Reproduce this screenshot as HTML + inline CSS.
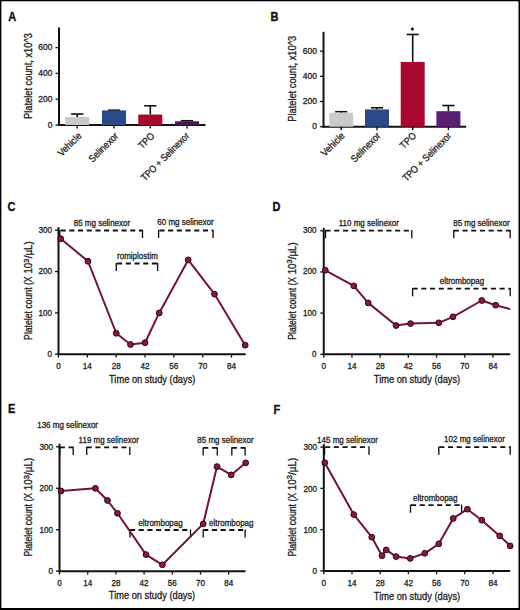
<!DOCTYPE html>
<html><head><meta charset="utf-8"><style>
html,body{margin:0;padding:0;background:#fff;}
body{width:520px;height:610px;overflow:hidden;}
svg{display:block;font-family:"Liberation Sans",sans-serif;}
</style></head><body>
<svg width="520" height="610" viewBox="0 0 520 610">
<rect x="0" y="0" width="520" height="610" fill="#000"/>
<rect x="1.4" y="1.3" width="517.1" height="606.7" fill="#fff"/>
<line x1="59" y1="27.5" x2="59" y2="126" stroke="#111" stroke-width="2.0" />
<line x1="58" y1="125" x2="205.5" y2="125" stroke="#111" stroke-width="2.0" />
<line x1="55.5" y1="125.0" x2="59" y2="125.0" stroke="#111" stroke-width="1.3" />
<text transform="translate(52.4,127.6) scale(1.0000,1)" font-size="8.45" text-anchor="end" font-weight="normal" fill="#222" stroke="#222" stroke-width="0.3" >0</text>
<line x1="55.5" y1="99.2" x2="59" y2="99.2" stroke="#111" stroke-width="1.3" />
<text transform="translate(52.4,101.8) scale(1.0000,1)" font-size="8.45" text-anchor="end" font-weight="normal" fill="#222" stroke="#222" stroke-width="0.3" >200</text>
<line x1="55.5" y1="73.4" x2="59" y2="73.4" stroke="#111" stroke-width="1.3" />
<text transform="translate(52.4,76.0) scale(1.0000,1)" font-size="8.45" text-anchor="end" font-weight="normal" fill="#222" stroke="#222" stroke-width="0.3" >400</text>
<line x1="55.5" y1="47.6" x2="59" y2="47.6" stroke="#111" stroke-width="1.3" />
<text transform="translate(52.4,50.2) scale(1.0000,1)" font-size="8.45" text-anchor="end" font-weight="normal" fill="#222" stroke="#222" stroke-width="0.3" >600</text>
<line x1="77.2" y1="114.03" x2="77.2" y2="117.0" stroke="#111" stroke-width="1.6" />
<line x1="71.1" y1="114.03" x2="83.3" y2="114.03" stroke="#111" stroke-width="1.6" />
<rect x="65.2" y="117.0" width="24" height="8.0" fill="#c9c9cb" stroke="none" stroke-width="0"/>
<line x1="77.2" y1="125" x2="77.2" y2="128.5" stroke="#111" stroke-width="1.4" />
<text transform="translate(82.2,136.5) rotate(-45) scale(0.9091,1)" font-size="9.90" text-anchor="end" font-weight="normal" fill="#222" stroke="#222" stroke-width="0.3" >Vehicle</text>
<line x1="114.0" y1="110.23" x2="114.0" y2="110.42" stroke="#111" stroke-width="1.6" />
<line x1="107.9" y1="110.23" x2="120.1" y2="110.23" stroke="#111" stroke-width="1.6" />
<rect x="102.0" y="110.42" width="24" height="14.58" fill="#294987" stroke="none" stroke-width="0"/>
<line x1="114.0" y1="125" x2="114.0" y2="128.5" stroke="#111" stroke-width="1.4" />
<text transform="translate(119.0,136.5) rotate(-45) scale(0.9091,1)" font-size="9.90" text-anchor="end" font-weight="normal" fill="#222" stroke="#222" stroke-width="0.3" >Selinexor</text>
<line x1="150.3" y1="105.78" x2="150.3" y2="114.55" stroke="#111" stroke-width="1.6" />
<line x1="144.2" y1="105.78" x2="156.4" y2="105.78" stroke="#111" stroke-width="1.6" />
<rect x="138.3" y="114.55" width="24" height="10.45" fill="#a9082c" stroke="none" stroke-width="0"/>
<line x1="150.3" y1="125" x2="150.3" y2="128.5" stroke="#111" stroke-width="1.4" />
<text transform="translate(155.3,136.5) rotate(-45) scale(0.9091,1)" font-size="9.90" text-anchor="end" font-weight="normal" fill="#222" stroke="#222" stroke-width="0.3" >TPO</text>
<line x1="187.0" y1="120.74" x2="187.0" y2="121.26" stroke="#111" stroke-width="1.6" />
<line x1="180.9" y1="120.74" x2="193.1" y2="120.74" stroke="#111" stroke-width="1.6" />
<rect x="175.0" y="121.26" width="24" height="3.74" fill="#431a53" stroke="none" stroke-width="0"/>
<line x1="187.0" y1="125" x2="187.0" y2="128.5" stroke="#111" stroke-width="1.4" />
<text transform="translate(190.0,136.5) rotate(-45) scale(0.9091,1)" font-size="9.90" text-anchor="end" font-weight="normal" fill="#222" stroke="#222" stroke-width="0.3" textLength="70.18" lengthAdjust="spacingAndGlyphs">TPO + Selinexor</text>
<text transform="translate(31.5,76) rotate(-90) scale(0.9091,1)" font-size="10.23" text-anchor="middle" font-weight="normal" fill="#222" stroke="#222" stroke-width="0.3" >Platelet count, x10^3</text>
<line x1="323.5" y1="31.8" x2="323.5" y2="127.7" stroke="#111" stroke-width="2.0" />
<line x1="322.5" y1="126.7" x2="466.2" y2="126.7" stroke="#111" stroke-width="2.0" />
<line x1="320.0" y1="126.7" x2="323.5" y2="126.7" stroke="#111" stroke-width="1.3" />
<text transform="translate(316.9,129.3) scale(1.0000,1)" font-size="8.45" text-anchor="end" font-weight="normal" fill="#222" stroke="#222" stroke-width="0.3" >0</text>
<line x1="320.0" y1="101.5" x2="323.5" y2="101.5" stroke="#111" stroke-width="1.3" />
<text transform="translate(316.9,104.1) scale(1.0000,1)" font-size="8.45" text-anchor="end" font-weight="normal" fill="#222" stroke="#222" stroke-width="0.3" >200</text>
<line x1="320.0" y1="76.3" x2="323.5" y2="76.3" stroke="#111" stroke-width="1.3" />
<text transform="translate(316.9,78.9) scale(1.0000,1)" font-size="8.45" text-anchor="end" font-weight="normal" fill="#222" stroke="#222" stroke-width="0.3" >400</text>
<line x1="320.0" y1="51.1" x2="323.5" y2="51.1" stroke="#111" stroke-width="1.3" />
<text transform="translate(316.9,53.7) scale(1.0000,1)" font-size="8.45" text-anchor="end" font-weight="normal" fill="#222" stroke="#222" stroke-width="0.3" >600</text>
<line x1="341.2" y1="111.71" x2="341.2" y2="112.71" stroke="#111" stroke-width="1.6" />
<line x1="335.1" y1="111.71" x2="347.3" y2="111.71" stroke="#111" stroke-width="1.6" />
<rect x="329.2" y="112.71" width="24" height="13.99" fill="#cbcbcd" stroke="none" stroke-width="0"/>
<line x1="341.2" y1="126.7" x2="341.2" y2="130.2" stroke="#111" stroke-width="1.4" />
<text transform="translate(345.4,136.4) rotate(-45) scale(0.9091,1)" font-size="9.90" text-anchor="end" font-weight="normal" fill="#222" stroke="#222" stroke-width="0.3" >Vehicle</text>
<line x1="377.0" y1="107.8" x2="377.0" y2="109.44" stroke="#111" stroke-width="1.6" />
<line x1="370.9" y1="107.8" x2="383.1" y2="107.8" stroke="#111" stroke-width="1.6" />
<rect x="365.0" y="109.44" width="24" height="17.26" fill="#294987" stroke="none" stroke-width="0"/>
<line x1="377.0" y1="126.7" x2="377.0" y2="130.2" stroke="#111" stroke-width="1.4" />
<text transform="translate(381.2,136.4) rotate(-45) scale(0.9091,1)" font-size="9.90" text-anchor="end" font-weight="normal" fill="#222" stroke="#222" stroke-width="0.3" >Selinexor</text>
<line x1="412.7" y1="34.47" x2="412.7" y2="61.94" stroke="#111" stroke-width="1.6" />
<line x1="406.6" y1="34.47" x2="418.8" y2="34.47" stroke="#111" stroke-width="1.6" />
<rect x="400.7" y="61.94" width="24" height="64.76" fill="#a9082c" stroke="none" stroke-width="0"/>
<line x1="412.7" y1="126.7" x2="412.7" y2="130.2" stroke="#111" stroke-width="1.4" />
<text transform="translate(416.9,136.4) rotate(-45) scale(0.9091,1)" font-size="9.90" text-anchor="end" font-weight="normal" fill="#222" stroke="#222" stroke-width="0.3" >TPO</text>
<line x1="448.4" y1="105.53" x2="448.4" y2="111.2" stroke="#111" stroke-width="1.6" />
<line x1="442.3" y1="105.53" x2="454.5" y2="105.53" stroke="#111" stroke-width="1.6" />
<rect x="436.4" y="111.2" width="24" height="15.5" fill="#5a1f6e" stroke="none" stroke-width="0"/>
<line x1="448.4" y1="126.7" x2="448.4" y2="130.2" stroke="#111" stroke-width="1.4" />
<text transform="translate(452.1,136.4) rotate(-45) scale(0.9091,1)" font-size="9.90" text-anchor="end" font-weight="normal" fill="#222" stroke="#222" stroke-width="0.3" textLength="71.06" lengthAdjust="spacingAndGlyphs">TPO + Selinexor</text>
<text transform="translate(296.0,78.8) rotate(-90) scale(0.9091,1)" font-size="10.23" text-anchor="middle" font-weight="normal" fill="#222" stroke="#222" stroke-width="0.3" >Platelet count, x10^3</text>
<circle cx="412.4" cy="28.9" r="1.5" fill="#111"/>
<line x1="58.5" y1="227.2" x2="58.5" y2="355.2" stroke="#111" stroke-width="2.0" />
<line x1="57.5" y1="354.2" x2="245.7" y2="354.2" stroke="#111" stroke-width="2.0" />
<line x1="55.0" y1="354.2" x2="58.5" y2="354.2" stroke="#111" stroke-width="1.3" />
<text transform="translate(51.9,357.1) scale(0.9524,1)" font-size="8.51" text-anchor="end" font-weight="normal" fill="#222" stroke="#222" stroke-width="0.3" >0</text>
<line x1="55.0" y1="312.87" x2="58.5" y2="312.87" stroke="#111" stroke-width="1.3" />
<text transform="translate(51.9,315.77) scale(0.9524,1)" font-size="8.51" text-anchor="end" font-weight="normal" fill="#222" stroke="#222" stroke-width="0.3" >100</text>
<line x1="55.0" y1="271.53" x2="58.5" y2="271.53" stroke="#111" stroke-width="1.3" />
<text transform="translate(51.9,274.43) scale(0.9524,1)" font-size="8.51" text-anchor="end" font-weight="normal" fill="#222" stroke="#222" stroke-width="0.3" >200</text>
<line x1="55.0" y1="230.2" x2="58.5" y2="230.2" stroke="#111" stroke-width="1.3" />
<text transform="translate(51.9,233.1) scale(0.9524,1)" font-size="8.51" text-anchor="end" font-weight="normal" fill="#222" stroke="#222" stroke-width="0.3" >300</text>
<line x1="58.5" y1="354.2" x2="58.5" y2="357.6" stroke="#111" stroke-width="1.3" />
<text transform="translate(58.5,368.8) scale(0.9524,1)" font-size="8.51" text-anchor="middle" font-weight="normal" fill="#222" stroke="#222" stroke-width="0.3" >0</text>
<line x1="87.33" y1="354.2" x2="87.33" y2="357.6" stroke="#111" stroke-width="1.3" />
<text transform="translate(87.33,368.8) scale(0.9524,1)" font-size="8.51" text-anchor="middle" font-weight="normal" fill="#222" stroke="#222" stroke-width="0.3" >14</text>
<line x1="116.16" y1="354.2" x2="116.16" y2="357.6" stroke="#111" stroke-width="1.3" />
<text transform="translate(116.16,368.8) scale(0.9524,1)" font-size="8.51" text-anchor="middle" font-weight="normal" fill="#222" stroke="#222" stroke-width="0.3" >28</text>
<line x1="144.99" y1="354.2" x2="144.99" y2="357.6" stroke="#111" stroke-width="1.3" />
<text transform="translate(144.99,368.8) scale(0.9524,1)" font-size="8.51" text-anchor="middle" font-weight="normal" fill="#222" stroke="#222" stroke-width="0.3" >42</text>
<line x1="173.82" y1="354.2" x2="173.82" y2="357.6" stroke="#111" stroke-width="1.3" />
<text transform="translate(173.82,368.8) scale(0.9524,1)" font-size="8.51" text-anchor="middle" font-weight="normal" fill="#222" stroke="#222" stroke-width="0.3" >56</text>
<line x1="202.65" y1="354.2" x2="202.65" y2="357.6" stroke="#111" stroke-width="1.3" />
<text transform="translate(202.65,368.8) scale(0.9524,1)" font-size="8.51" text-anchor="middle" font-weight="normal" fill="#222" stroke="#222" stroke-width="0.3" >70</text>
<line x1="231.48" y1="354.2" x2="231.48" y2="357.6" stroke="#111" stroke-width="1.3" />
<text transform="translate(231.48,368.8) scale(0.9524,1)" font-size="8.51" text-anchor="middle" font-weight="normal" fill="#222" stroke="#222" stroke-width="0.3" >84</text>
<text transform="translate(152.2,383.0) scale(0.9091,1)" font-size="10.23" text-anchor="middle" font-weight="normal" fill="#222" stroke="#222" stroke-width="0.3" >Time on study (days)</text>
<text transform="translate(32.2,339.9) rotate(-90) scale(0.9091,1)" font-size="10.23" text-anchor="start" font-weight="normal" fill="#222" stroke="#222" stroke-width="0.3" textLength="69.89" lengthAdjust="spacingAndGlyphs">Platelet count (X</text>
<text transform="translate(32.2,241.2) rotate(-90) scale(0.9091,1)" font-size="10.23" text-anchor="end" font-weight="normal" fill="#222" stroke="#222" stroke-width="0.3" textLength="35.65" lengthAdjust="spacingAndGlyphs">10<tspan font-size="8" dy="-3.4">3</tspan><tspan dy="3.4">/µL)</tspan></text>
<line x1="59.8" y1="230.5" x2="142.5" y2="230.5" stroke="#111" stroke-width="1.8" stroke-dasharray="5.1 3.6" stroke-dashoffset="-0.8"/>
<line x1="59.8" y1="229.9" x2="59.8" y2="238.1" stroke="#111" stroke-width="1.35" />
<line x1="142.5" y1="229.9" x2="142.5" y2="238.1" stroke="#111" stroke-width="1.35" />
<line x1="158.6" y1="230.5" x2="213.0" y2="230.5" stroke="#111" stroke-width="1.8" stroke-dasharray="5.1 3.6" stroke-dashoffset="-0.8"/>
<line x1="158.6" y1="229.9" x2="158.6" y2="238.1" stroke="#111" stroke-width="1.35" />
<line x1="213.0" y1="229.9" x2="213.0" y2="238.1" stroke="#111" stroke-width="1.35" />
<line x1="116.3" y1="263.5" x2="157.6" y2="263.5" stroke="#111" stroke-width="1.8" stroke-dasharray="5.1 3.6" stroke-dashoffset="-0.8"/>
<line x1="116.3" y1="262.9" x2="116.3" y2="271.1" stroke="#111" stroke-width="1.35" />
<line x1="157.6" y1="262.9" x2="157.6" y2="271.1" stroke="#111" stroke-width="1.35" />
<text transform="translate(73.75,225.8) scale(0.9091,1)" font-size="8.80" text-anchor="start" font-weight="normal" fill="#222" stroke="#222" stroke-width="0.3" >85 mg selinexor</text>
<text transform="translate(157.3,225.2) scale(0.9091,1)" font-size="8.80" text-anchor="start" font-weight="normal" fill="#222" stroke="#222" stroke-width="0.3" >60 mg selinexor</text>
<text transform="translate(137.5,259.0) scale(0.9091,1)" font-size="8.80" text-anchor="middle" font-weight="normal" fill="#222" stroke="#222" stroke-width="0.3" >romiplostim</text>
<polyline points="60.75,238.75 88,261.25 116.25,333.25 130.5,344.5 145,342.7 159.2,312.9 188.2,259.9 214.5,294.1 245.2,345.2" fill="none" stroke="#741430" stroke-width="2.0" stroke-linejoin="round"/>
<circle cx="60.75" cy="238.75" r="2.9" fill="#8a1a3b" stroke="#2a0610" stroke-width="1.0"/>
<circle cx="88" cy="261.25" r="2.9" fill="#8a1a3b" stroke="#2a0610" stroke-width="1.0"/>
<circle cx="116.25" cy="333.25" r="2.9" fill="#8a1a3b" stroke="#2a0610" stroke-width="1.0"/>
<circle cx="130.5" cy="344.5" r="2.9" fill="#8a1a3b" stroke="#2a0610" stroke-width="1.0"/>
<circle cx="145" cy="342.7" r="2.9" fill="#8a1a3b" stroke="#2a0610" stroke-width="1.0"/>
<circle cx="159.2" cy="312.9" r="2.9" fill="#8a1a3b" stroke="#2a0610" stroke-width="1.0"/>
<circle cx="188.2" cy="259.9" r="2.9" fill="#8a1a3b" stroke="#2a0610" stroke-width="1.0"/>
<circle cx="214.5" cy="294.1" r="2.9" fill="#8a1a3b" stroke="#2a0610" stroke-width="1.0"/>
<circle cx="245.2" cy="345.2" r="2.9" fill="#8a1a3b" stroke="#2a0610" stroke-width="1.0"/>
<line x1="323.75" y1="227.8" x2="323.75" y2="355.3" stroke="#111" stroke-width="2.0" />
<line x1="322.75" y1="354.3" x2="510.2" y2="354.3" stroke="#111" stroke-width="2.0" />
<line x1="320.25" y1="354.3" x2="323.75" y2="354.3" stroke="#111" stroke-width="1.3" />
<text transform="translate(316.45,356.7) scale(0.9524,1)" font-size="8.51" text-anchor="end" font-weight="normal" fill="#222" stroke="#222" stroke-width="0.3" >0</text>
<line x1="320.25" y1="313.13" x2="323.75" y2="313.13" stroke="#111" stroke-width="1.3" />
<text transform="translate(316.45,315.53) scale(0.9524,1)" font-size="8.51" text-anchor="end" font-weight="normal" fill="#222" stroke="#222" stroke-width="0.3" >100</text>
<line x1="320.25" y1="271.97" x2="323.75" y2="271.97" stroke="#111" stroke-width="1.3" />
<text transform="translate(316.45,274.37) scale(0.9524,1)" font-size="8.51" text-anchor="end" font-weight="normal" fill="#222" stroke="#222" stroke-width="0.3" >200</text>
<line x1="320.25" y1="230.8" x2="323.75" y2="230.8" stroke="#111" stroke-width="1.3" />
<text transform="translate(316.45,233.2) scale(0.9524,1)" font-size="8.51" text-anchor="end" font-weight="normal" fill="#222" stroke="#222" stroke-width="0.3" >300</text>
<line x1="323.75" y1="354.3" x2="323.75" y2="357.7" stroke="#111" stroke-width="1.3" />
<text transform="translate(323.75,368.9) scale(0.9524,1)" font-size="8.51" text-anchor="middle" font-weight="normal" fill="#222" stroke="#222" stroke-width="0.3" >0</text>
<line x1="351.95" y1="354.3" x2="351.95" y2="357.7" stroke="#111" stroke-width="1.3" />
<text transform="translate(351.95,368.9) scale(0.9524,1)" font-size="8.51" text-anchor="middle" font-weight="normal" fill="#222" stroke="#222" stroke-width="0.3" >14</text>
<line x1="380.14" y1="354.3" x2="380.14" y2="357.7" stroke="#111" stroke-width="1.3" />
<text transform="translate(380.14,368.9) scale(0.9524,1)" font-size="8.51" text-anchor="middle" font-weight="normal" fill="#222" stroke="#222" stroke-width="0.3" >28</text>
<line x1="408.34" y1="354.3" x2="408.34" y2="357.7" stroke="#111" stroke-width="1.3" />
<text transform="translate(408.34,368.9) scale(0.9524,1)" font-size="8.51" text-anchor="middle" font-weight="normal" fill="#222" stroke="#222" stroke-width="0.3" >42</text>
<line x1="436.53" y1="354.3" x2="436.53" y2="357.7" stroke="#111" stroke-width="1.3" />
<text transform="translate(436.53,368.9) scale(0.9524,1)" font-size="8.51" text-anchor="middle" font-weight="normal" fill="#222" stroke="#222" stroke-width="0.3" >56</text>
<line x1="464.73" y1="354.3" x2="464.73" y2="357.7" stroke="#111" stroke-width="1.3" />
<text transform="translate(464.73,368.9) scale(0.9524,1)" font-size="8.51" text-anchor="middle" font-weight="normal" fill="#222" stroke="#222" stroke-width="0.3" >70</text>
<line x1="492.93" y1="354.3" x2="492.93" y2="357.7" stroke="#111" stroke-width="1.3" />
<text transform="translate(492.93,368.9) scale(0.9524,1)" font-size="8.51" text-anchor="middle" font-weight="normal" fill="#222" stroke="#222" stroke-width="0.3" >84</text>
<text transform="translate(417.0,383.3) scale(0.9091,1)" font-size="10.23" text-anchor="middle" font-weight="normal" fill="#222" stroke="#222" stroke-width="0.3" >Time on study (days)</text>
<text transform="translate(295.5,339.7) rotate(-90) scale(0.9091,1)" font-size="10.23" text-anchor="start" font-weight="normal" fill="#222" stroke="#222" stroke-width="0.3" textLength="68.97" lengthAdjust="spacingAndGlyphs">Platelet count (X</text>
<text transform="translate(295.5,242.3) rotate(-90) scale(0.9091,1)" font-size="10.23" text-anchor="end" font-weight="normal" fill="#222" stroke="#222" stroke-width="0.3" textLength="35.19" lengthAdjust="spacingAndGlyphs">10<tspan font-size="8" dy="-3.4">3</tspan><tspan dy="3.4">/µL)</tspan></text>
<line x1="325.5" y1="230.6" x2="411.8" y2="230.6" stroke="#111" stroke-width="1.8" stroke-dasharray="5.1 3.6" stroke-dashoffset="0"/>
<line x1="325.5" y1="230.0" x2="325.5" y2="238.2" stroke="#111" stroke-width="1.35" />
<line x1="411.8" y1="230.0" x2="411.8" y2="238.2" stroke="#111" stroke-width="1.35" />
<line x1="453.8" y1="230.6" x2="510.2" y2="230.6" stroke="#111" stroke-width="1.8" stroke-dasharray="5.1 3.6" stroke-dashoffset="0"/>
<line x1="453.8" y1="230.0" x2="453.8" y2="238.2" stroke="#111" stroke-width="1.35" />
<line x1="510.2" y1="230.0" x2="510.2" y2="238.2" stroke="#111" stroke-width="1.35" />
<line x1="412.6" y1="288.7" x2="510.2" y2="288.7" stroke="#111" stroke-width="1.8" stroke-dasharray="5.1 3.6" stroke-dashoffset="0"/>
<line x1="412.6" y1="288.1" x2="412.6" y2="296.3" stroke="#111" stroke-width="1.35" />
<line x1="510.2" y1="288.1" x2="510.2" y2="296.3" stroke="#111" stroke-width="1.35" />
<text transform="translate(338.75,225.8) scale(0.9091,1)" font-size="8.80" text-anchor="start" font-weight="normal" fill="#222" stroke="#222" stroke-width="0.3" >110 mg selinexor</text>
<text transform="translate(453.2,225.5) scale(0.9091,1)" font-size="8.80" text-anchor="start" font-weight="normal" fill="#222" stroke="#222" stroke-width="0.3" >85 mg selinexor</text>
<text transform="translate(461.9,283.6) scale(0.9091,1)" font-size="8.80" text-anchor="middle" font-weight="normal" fill="#222" stroke="#222" stroke-width="0.3" >eltrombopag</text>
<polyline points="325.3,270.3 353.8,285.9 368.2,302.9 396.1,325.5 410.5,323.6 438.8,322.8 453,316.8 481.8,300.5 495.7,305.2 510.2,309.1" fill="none" stroke="#741430" stroke-width="2.0" stroke-linejoin="round"/>
<circle cx="325.3" cy="270.3" r="2.9" fill="#8a1a3b" stroke="#2a0610" stroke-width="1.0"/>
<circle cx="353.8" cy="285.9" r="2.9" fill="#8a1a3b" stroke="#2a0610" stroke-width="1.0"/>
<circle cx="368.2" cy="302.9" r="2.9" fill="#8a1a3b" stroke="#2a0610" stroke-width="1.0"/>
<circle cx="396.1" cy="325.5" r="2.9" fill="#8a1a3b" stroke="#2a0610" stroke-width="1.0"/>
<circle cx="410.5" cy="323.6" r="2.9" fill="#8a1a3b" stroke="#2a0610" stroke-width="1.0"/>
<circle cx="438.8" cy="322.8" r="2.9" fill="#8a1a3b" stroke="#2a0610" stroke-width="1.0"/>
<circle cx="453" cy="316.8" r="2.9" fill="#8a1a3b" stroke="#2a0610" stroke-width="1.0"/>
<circle cx="481.8" cy="300.5" r="2.9" fill="#8a1a3b" stroke="#2a0610" stroke-width="1.0"/>
<circle cx="495.7" cy="305.2" r="2.9" fill="#8a1a3b" stroke="#2a0610" stroke-width="1.0"/>
<line x1="59.5" y1="443.8" x2="59.5" y2="572.2" stroke="#111" stroke-width="2.0" />
<line x1="58.5" y1="571.2" x2="245.5" y2="571.2" stroke="#111" stroke-width="2.0" />
<line x1="56.0" y1="571.2" x2="59.5" y2="571.2" stroke="#111" stroke-width="1.3" />
<text transform="translate(52.9,574.1) scale(0.9524,1)" font-size="8.51" text-anchor="end" font-weight="normal" fill="#222" stroke="#222" stroke-width="0.3" >0</text>
<line x1="56.0" y1="529.73" x2="59.5" y2="529.73" stroke="#111" stroke-width="1.3" />
<text transform="translate(52.9,532.63) scale(0.9524,1)" font-size="8.51" text-anchor="end" font-weight="normal" fill="#222" stroke="#222" stroke-width="0.3" >100</text>
<line x1="56.0" y1="488.27" x2="59.5" y2="488.27" stroke="#111" stroke-width="1.3" />
<text transform="translate(52.9,491.17) scale(0.9524,1)" font-size="8.51" text-anchor="end" font-weight="normal" fill="#222" stroke="#222" stroke-width="0.3" >200</text>
<line x1="56.0" y1="446.8" x2="59.5" y2="446.8" stroke="#111" stroke-width="1.3" />
<text transform="translate(52.9,449.7) scale(0.9524,1)" font-size="8.51" text-anchor="end" font-weight="normal" fill="#222" stroke="#222" stroke-width="0.3" >300</text>
<line x1="59.5" y1="571.2" x2="59.5" y2="574.6" stroke="#111" stroke-width="1.3" />
<text transform="translate(59.5,585.8) scale(0.9524,1)" font-size="8.51" text-anchor="middle" font-weight="normal" fill="#222" stroke="#222" stroke-width="0.3" >0</text>
<line x1="87.7" y1="571.2" x2="87.7" y2="574.6" stroke="#111" stroke-width="1.3" />
<text transform="translate(87.7,585.8) scale(0.9524,1)" font-size="8.51" text-anchor="middle" font-weight="normal" fill="#222" stroke="#222" stroke-width="0.3" >14</text>
<line x1="115.89" y1="571.2" x2="115.89" y2="574.6" stroke="#111" stroke-width="1.3" />
<text transform="translate(115.89,585.8) scale(0.9524,1)" font-size="8.51" text-anchor="middle" font-weight="normal" fill="#222" stroke="#222" stroke-width="0.3" >28</text>
<line x1="144.09" y1="571.2" x2="144.09" y2="574.6" stroke="#111" stroke-width="1.3" />
<text transform="translate(144.09,585.8) scale(0.9524,1)" font-size="8.51" text-anchor="middle" font-weight="normal" fill="#222" stroke="#222" stroke-width="0.3" >42</text>
<line x1="172.28" y1="571.2" x2="172.28" y2="574.6" stroke="#111" stroke-width="1.3" />
<text transform="translate(172.28,585.8) scale(0.9524,1)" font-size="8.51" text-anchor="middle" font-weight="normal" fill="#222" stroke="#222" stroke-width="0.3" >56</text>
<line x1="200.48" y1="571.2" x2="200.48" y2="574.6" stroke="#111" stroke-width="1.3" />
<text transform="translate(200.48,585.8) scale(0.9524,1)" font-size="8.51" text-anchor="middle" font-weight="normal" fill="#222" stroke="#222" stroke-width="0.3" >70</text>
<line x1="228.68" y1="571.2" x2="228.68" y2="574.6" stroke="#111" stroke-width="1.3" />
<text transform="translate(228.68,585.8) scale(0.9524,1)" font-size="8.51" text-anchor="middle" font-weight="normal" fill="#222" stroke="#222" stroke-width="0.3" >84</text>
<text transform="translate(152.0,599.0) scale(0.9091,1)" font-size="10.23" text-anchor="middle" font-weight="normal" fill="#222" stroke="#222" stroke-width="0.3" >Time on study (days)</text>
<text transform="translate(31.9,556.5) rotate(-90) scale(0.9091,1)" font-size="10.23" text-anchor="start" font-weight="normal" fill="#222" stroke="#222" stroke-width="0.3" textLength="69.89" lengthAdjust="spacingAndGlyphs">Platelet count (X</text>
<text transform="translate(31.9,457.8) rotate(-90) scale(0.9091,1)" font-size="10.23" text-anchor="end" font-weight="normal" fill="#222" stroke="#222" stroke-width="0.3" textLength="35.65" lengthAdjust="spacingAndGlyphs">10<tspan font-size="8" dy="-3.4">3</tspan><tspan dy="3.4">/µL)</tspan></text>
<line x1="59.8" y1="447.3" x2="73.2" y2="447.3" stroke="#111" stroke-width="1.8" stroke-dasharray="5.1 3.6" stroke-dashoffset="0"/>
<line x1="59.8" y1="446.7" x2="59.8" y2="454.9" stroke="#111" stroke-width="1.35" />
<line x1="73.2" y1="446.7" x2="73.2" y2="454.9" stroke="#111" stroke-width="1.35" />
<line x1="86.7" y1="447.3" x2="129.8" y2="447.3" stroke="#111" stroke-width="1.8" stroke-dasharray="5.1 3.6" stroke-dashoffset="0"/>
<line x1="86.7" y1="446.7" x2="86.7" y2="454.9" stroke="#111" stroke-width="1.35" />
<line x1="129.8" y1="446.7" x2="129.8" y2="454.9" stroke="#111" stroke-width="1.35" />
<line x1="203.2" y1="447.8" x2="217.3" y2="447.8" stroke="#111" stroke-width="1.8" stroke-dasharray="5.1 3.6" stroke-dashoffset="0"/>
<line x1="203.2" y1="447.2" x2="203.2" y2="455.4" stroke="#111" stroke-width="1.35" />
<line x1="217.3" y1="447.2" x2="217.3" y2="455.4" stroke="#111" stroke-width="1.35" />
<line x1="231.8" y1="447.8" x2="245.1" y2="447.8" stroke="#111" stroke-width="1.8" stroke-dasharray="5.1 3.6" stroke-dashoffset="0"/>
<line x1="231.8" y1="447.2" x2="231.8" y2="455.4" stroke="#111" stroke-width="1.35" />
<line x1="245.1" y1="447.2" x2="245.1" y2="455.4" stroke="#111" stroke-width="1.35" />
<line x1="130" y1="530" x2="190.5" y2="530" stroke="#111" stroke-width="1.8" stroke-dasharray="5.1 3.6" stroke-dashoffset="0"/>
<line x1="130" y1="529.4" x2="130" y2="537.6" stroke="#111" stroke-width="1.35" />
<line x1="190.5" y1="529.4" x2="190.5" y2="537.6" stroke="#111" stroke-width="1.35" />
<line x1="203.2" y1="530" x2="245.1" y2="530" stroke="#111" stroke-width="1.8" stroke-dasharray="5.1 3.6" stroke-dashoffset="0"/>
<line x1="203.2" y1="529.4" x2="203.2" y2="537.6" stroke="#111" stroke-width="1.35" />
<line x1="245.1" y1="529.4" x2="245.1" y2="537.6" stroke="#111" stroke-width="1.35" />
<text transform="translate(37.2,428.4) scale(0.9091,1)" font-size="8.80" text-anchor="start" font-weight="normal" fill="#222" stroke="#222" stroke-width="0.3" >136 mg selinexor</text>
<text transform="translate(78.6,442.6) scale(0.9091,1)" font-size="8.80" text-anchor="start" font-weight="normal" fill="#222" stroke="#222" stroke-width="0.3" >119 mg selinexor</text>
<text transform="translate(197.3,442.8) scale(0.9091,1)" font-size="8.80" text-anchor="start" font-weight="normal" fill="#222" stroke="#222" stroke-width="0.3" >85 mg selinexor</text>
<text transform="translate(138.3,525.5) scale(0.9091,1)" font-size="8.80" text-anchor="start" font-weight="normal" fill="#222" stroke="#222" stroke-width="0.3" >eltrombopag</text>
<text transform="translate(209.1,525.5) scale(0.9091,1)" font-size="8.80" text-anchor="start" font-weight="normal" fill="#222" stroke="#222" stroke-width="0.3" >eltrombopag</text>
<polyline points="61,491 95.4,488.3 107.5,500.5 117.5,513.3 146,554.6 162.4,564.8 203.2,523.9 217,466.6 231.2,474.9 245.7,462.8" fill="none" stroke="#741430" stroke-width="2.0" stroke-linejoin="round"/>
<circle cx="61" cy="491" r="2.9" fill="#8a1a3b" stroke="#2a0610" stroke-width="1.0"/>
<circle cx="95.4" cy="488.3" r="2.9" fill="#8a1a3b" stroke="#2a0610" stroke-width="1.0"/>
<circle cx="107.5" cy="500.5" r="2.9" fill="#8a1a3b" stroke="#2a0610" stroke-width="1.0"/>
<circle cx="117.5" cy="513.3" r="2.9" fill="#8a1a3b" stroke="#2a0610" stroke-width="1.0"/>
<circle cx="146" cy="554.6" r="2.9" fill="#8a1a3b" stroke="#2a0610" stroke-width="1.0"/>
<circle cx="162.4" cy="564.8" r="2.9" fill="#8a1a3b" stroke="#2a0610" stroke-width="1.0"/>
<circle cx="203.2" cy="523.9" r="2.9" fill="#8a1a3b" stroke="#2a0610" stroke-width="1.0"/>
<circle cx="217" cy="466.6" r="2.9" fill="#8a1a3b" stroke="#2a0610" stroke-width="1.0"/>
<circle cx="231.2" cy="474.9" r="2.9" fill="#8a1a3b" stroke="#2a0610" stroke-width="1.0"/>
<circle cx="245.7" cy="462.8" r="2.9" fill="#8a1a3b" stroke="#2a0610" stroke-width="1.0"/>
<line x1="323.8" y1="444.1" x2="323.8" y2="571.9" stroke="#111" stroke-width="2.0" />
<line x1="322.8" y1="570.9" x2="510.2" y2="570.9" stroke="#111" stroke-width="2.0" />
<line x1="320.3" y1="570.9" x2="323.8" y2="570.9" stroke="#111" stroke-width="1.3" />
<text transform="translate(317.0,574.1) scale(0.9524,1)" font-size="8.51" text-anchor="end" font-weight="normal" fill="#222" stroke="#222" stroke-width="0.3" >0</text>
<line x1="320.3" y1="529.63" x2="323.8" y2="529.63" stroke="#111" stroke-width="1.3" />
<text transform="translate(317.0,532.83) scale(0.9524,1)" font-size="8.51" text-anchor="end" font-weight="normal" fill="#222" stroke="#222" stroke-width="0.3" >100</text>
<line x1="320.3" y1="488.37" x2="323.8" y2="488.37" stroke="#111" stroke-width="1.3" />
<text transform="translate(317.0,491.57) scale(0.9524,1)" font-size="8.51" text-anchor="end" font-weight="normal" fill="#222" stroke="#222" stroke-width="0.3" >200</text>
<line x1="320.3" y1="447.1" x2="323.8" y2="447.1" stroke="#111" stroke-width="1.3" />
<text transform="translate(317.0,450.3) scale(0.9524,1)" font-size="8.51" text-anchor="end" font-weight="normal" fill="#222" stroke="#222" stroke-width="0.3" >300</text>
<line x1="323.8" y1="570.9" x2="323.8" y2="574.3" stroke="#111" stroke-width="1.3" />
<text transform="translate(323.8,585.5) scale(0.9524,1)" font-size="8.51" text-anchor="middle" font-weight="normal" fill="#222" stroke="#222" stroke-width="0.3" >0</text>
<line x1="352.0" y1="570.9" x2="352.0" y2="574.3" stroke="#111" stroke-width="1.3" />
<text transform="translate(352.0,585.5) scale(0.9524,1)" font-size="8.51" text-anchor="middle" font-weight="normal" fill="#222" stroke="#222" stroke-width="0.3" >14</text>
<line x1="380.19" y1="570.9" x2="380.19" y2="574.3" stroke="#111" stroke-width="1.3" />
<text transform="translate(380.19,585.5) scale(0.9524,1)" font-size="8.51" text-anchor="middle" font-weight="normal" fill="#222" stroke="#222" stroke-width="0.3" >28</text>
<line x1="408.39" y1="570.9" x2="408.39" y2="574.3" stroke="#111" stroke-width="1.3" />
<text transform="translate(408.39,585.5) scale(0.9524,1)" font-size="8.51" text-anchor="middle" font-weight="normal" fill="#222" stroke="#222" stroke-width="0.3" >42</text>
<line x1="436.58" y1="570.9" x2="436.58" y2="574.3" stroke="#111" stroke-width="1.3" />
<text transform="translate(436.58,585.5) scale(0.9524,1)" font-size="8.51" text-anchor="middle" font-weight="normal" fill="#222" stroke="#222" stroke-width="0.3" >56</text>
<line x1="464.78" y1="570.9" x2="464.78" y2="574.3" stroke="#111" stroke-width="1.3" />
<text transform="translate(464.78,585.5) scale(0.9524,1)" font-size="8.51" text-anchor="middle" font-weight="normal" fill="#222" stroke="#222" stroke-width="0.3" >70</text>
<line x1="492.98" y1="570.9" x2="492.98" y2="574.3" stroke="#111" stroke-width="1.3" />
<text transform="translate(492.98,585.5) scale(0.9524,1)" font-size="8.51" text-anchor="middle" font-weight="normal" fill="#222" stroke="#222" stroke-width="0.3" >84</text>
<text transform="translate(417.0,599.8) scale(0.9091,1)" font-size="10.23" text-anchor="middle" font-weight="normal" fill="#222" stroke="#222" stroke-width="0.3" >Time on study (days)</text>
<text transform="translate(295.5,556.5) rotate(-90) scale(0.9091,1)" font-size="10.23" text-anchor="start" font-weight="normal" fill="#222" stroke="#222" stroke-width="0.3" textLength="69.89" lengthAdjust="spacingAndGlyphs">Platelet count (X</text>
<text transform="translate(295.5,457.8) rotate(-90) scale(0.9091,1)" font-size="10.23" text-anchor="end" font-weight="normal" fill="#222" stroke="#222" stroke-width="0.3" textLength="35.65" lengthAdjust="spacingAndGlyphs">10<tspan font-size="8" dy="-3.4">3</tspan><tspan dy="3.4">/µL)</tspan></text>
<line x1="324.6" y1="447.1" x2="369" y2="447.1" stroke="#111" stroke-width="1.8" stroke-dasharray="5.1 3.6" stroke-dashoffset="-0.5"/>
<line x1="324.6" y1="446.5" x2="324.6" y2="454.7" stroke="#111" stroke-width="1.35" />
<line x1="369" y1="446.5" x2="369" y2="454.7" stroke="#111" stroke-width="1.35" />
<line x1="438.8" y1="447.1" x2="510.2" y2="447.1" stroke="#111" stroke-width="1.8" stroke-dasharray="5.1 3.6" stroke-dashoffset="-0.5"/>
<line x1="438.8" y1="446.5" x2="438.8" y2="454.7" stroke="#111" stroke-width="1.35" />
<line x1="510.2" y1="446.5" x2="510.2" y2="454.7" stroke="#111" stroke-width="1.35" />
<line x1="410.5" y1="505.2" x2="461.6" y2="505.2" stroke="#111" stroke-width="1.8" stroke-dasharray="5.1 3.6" stroke-dashoffset="-0.5"/>
<line x1="410.5" y1="504.6" x2="410.5" y2="512.8" stroke="#111" stroke-width="1.35" />
<line x1="461.6" y1="504.6" x2="461.6" y2="512.8" stroke="#111" stroke-width="1.35" />
<text transform="translate(317.1,442.6) scale(0.9091,1)" font-size="8.80" text-anchor="start" font-weight="normal" fill="#222" stroke="#222" stroke-width="0.3" >145 mg selinexor</text>
<text transform="translate(444.1,441.9) scale(0.9091,1)" font-size="8.80" text-anchor="start" font-weight="normal" fill="#222" stroke="#222" stroke-width="0.3" >102 mg selinexor</text>
<text transform="translate(413.1,500.7) scale(0.9091,1)" font-size="8.80" text-anchor="start" font-weight="normal" fill="#222" stroke="#222" stroke-width="0.3" >eltrombopag</text>
<polyline points="324.8,462.7 353.8,514.6 371.8,537.2 382,555.7 386.2,549.9 396.1,556.6 410.2,558.4 424.8,553.3 438.8,543.8 453.2,518.4 467.4,509.2 481.8,520.2 499.7,535.9 510.2,545.9" fill="none" stroke="#741430" stroke-width="2.0" stroke-linejoin="round"/>
<circle cx="324.8" cy="462.7" r="2.9" fill="#8a1a3b" stroke="#2a0610" stroke-width="1.0"/>
<circle cx="353.8" cy="514.6" r="2.9" fill="#8a1a3b" stroke="#2a0610" stroke-width="1.0"/>
<circle cx="371.8" cy="537.2" r="2.9" fill="#8a1a3b" stroke="#2a0610" stroke-width="1.0"/>
<circle cx="382" cy="555.7" r="2.9" fill="#8a1a3b" stroke="#2a0610" stroke-width="1.0"/>
<circle cx="386.2" cy="549.9" r="2.9" fill="#8a1a3b" stroke="#2a0610" stroke-width="1.0"/>
<circle cx="396.1" cy="556.6" r="2.9" fill="#8a1a3b" stroke="#2a0610" stroke-width="1.0"/>
<circle cx="410.2" cy="558.4" r="2.9" fill="#8a1a3b" stroke="#2a0610" stroke-width="1.0"/>
<circle cx="424.8" cy="553.3" r="2.9" fill="#8a1a3b" stroke="#2a0610" stroke-width="1.0"/>
<circle cx="438.8" cy="543.8" r="2.9" fill="#8a1a3b" stroke="#2a0610" stroke-width="1.0"/>
<circle cx="453.2" cy="518.4" r="2.9" fill="#8a1a3b" stroke="#2a0610" stroke-width="1.0"/>
<circle cx="467.4" cy="509.2" r="2.9" fill="#8a1a3b" stroke="#2a0610" stroke-width="1.0"/>
<circle cx="481.8" cy="520.2" r="2.9" fill="#8a1a3b" stroke="#2a0610" stroke-width="1.0"/>
<circle cx="499.7" cy="535.9" r="2.9" fill="#8a1a3b" stroke="#2a0610" stroke-width="1.0"/>
<circle cx="510.2" cy="545.9" r="2.9" fill="#8a1a3b" stroke="#2a0610" stroke-width="1.0"/>
<text transform="translate(8.3,21.4) scale(0.9091,1)" font-size="12.10" text-anchor="start" font-weight="bold" fill="#111" stroke="#111" stroke-width="0.35" >A</text>
<text transform="translate(270.6,20.6) scale(0.9091,1)" font-size="12.10" text-anchor="start" font-weight="bold" fill="#111" stroke="#111" stroke-width="0.35" >B</text>
<text transform="translate(7.6,211.0) scale(0.9091,1)" font-size="12.10" text-anchor="start" font-weight="bold" fill="#111" stroke="#111" stroke-width="0.35" >C</text>
<text transform="translate(272.5,210.8) scale(0.9091,1)" font-size="12.10" text-anchor="start" font-weight="bold" fill="#111" stroke="#111" stroke-width="0.35" >D</text>
<text transform="translate(8.1,413.0) scale(0.9091,1)" font-size="12.10" text-anchor="start" font-weight="bold" fill="#111" stroke="#111" stroke-width="0.35" >E</text>
<text transform="translate(273.5,413.5) scale(0.9091,1)" font-size="12.10" text-anchor="start" font-weight="bold" fill="#111" stroke="#111" stroke-width="0.35" >F</text>
</svg>
</body></html>
